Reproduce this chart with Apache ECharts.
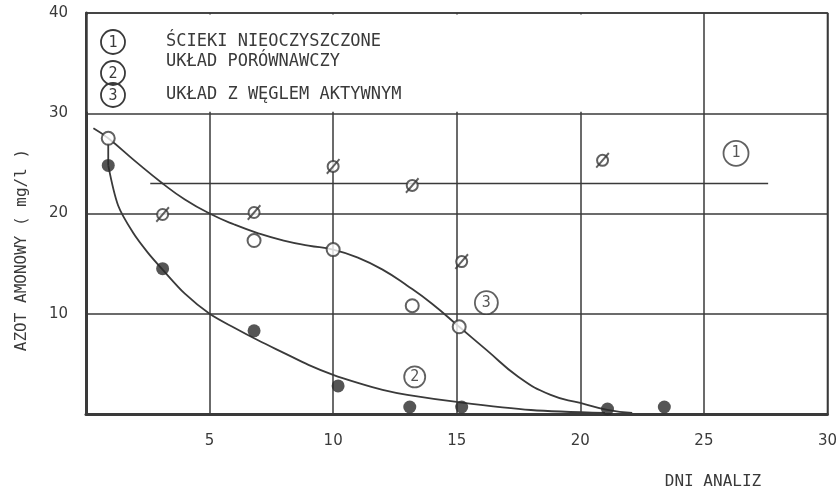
<!DOCTYPE html>
<html><head><meta charset="utf-8">
<script src="https://cdn.jsdelivr.net/npm/echarts@6/dist/echarts.min.js"></script>
<style>html,body{margin:0;padding:0;background:#fff}#c{width:840px;height:489px}</style>
</head><body><div id="c"></div>
<script>
// ---- data ----
const xTicks = [5, 10, 15, 20, 25, 30];
const yTicks = [10, 20, 30, 40];
// series 1: ścieki nieoczyszczone (slashed circles) + horizontal mean line
const s1Points = [[3.1,19.9],[6.8,20.1],[10.0,24.7],[13.2,22.8],[15.2,15.2],[20.9,25.3]];
const s1Line = [[2.6,23.0],[27.6,23.0]];
// series 2: układ porównawczy (filled circles) + fitted curve
const s2Points = [[0.9,24.8],[3.1,14.5],[6.8,8.3],[10.2,2.8],[13.1,0.7],[15.2,0.7],[21.1,0.5],[23.4,0.7]];
const s2Stem = [[0.9,27.0],[0.9,24.8]];
const s2Curve = [[0.9,24.8],[1.3,20.8],[1.9,18.1],[2.5,16.1],[3.1,14.4],[4.0,12.0],[5.0,10.0],[6.0,8.6],[7.0,7.3],[8.0,6.1],[9.0,4.9],[10.0,3.9],[11.0,3.1],[12.0,2.4],[13.0,1.9],[15.0,1.2],[18.0,0.4],[21.0,0.1]];
// series 3: układ z węglem aktywnym (open circles) + fitted curve
const s3Points = [[0.9,27.5],[6.8,17.3],[10.0,16.4],[13.2,10.8],[15.1,8.7]];
const s3Curve = [[0.3,28.5],[0.9,27.5],[2.0,25.2],[3.1,23.0],[4.0,21.4],[5.0,20.0],[6.0,18.9],[7.0,18.0],[8.0,17.3],[9.0,16.8],[10.0,16.4],[11.0,15.6],[12.0,14.4],[13.0,12.8],[14.0,11.0],[15.1,8.7],[16.2,6.4],[17.5,3.7],[18.8,1.9],[20.0,1.1],[21.1,0.4],[22.1,0.1]];
// circled curve numbers placed on the plot
const curveTags = [[26.3,26.0,'1',25],[16.2,11.1,'3',23],[13.3,3.7,'2',21]];
const legendNames = ['ŚCIEKI NIEOCZYSZCZONE','UKŁAD PORÓWNAWCZY','UKŁAD Z WĘGLEM AKTYWNYM'];
const yAxisTitle = 'AZOT AMONOWY ( mg/l )';
const xAxisTitle = 'DNI ANALIZ';

const INK = '#3a3a3a';
const MONO = '"DejaVu Sans Mono", "Liberation Mono", monospace';
const chart = echarts.init(document.getElementById('c'));

const legendY = [42, 73, 95];
const legendTextY = [42, 62, 95];
const graphics = [];
legendNames.forEach((n, i) => {
  graphics.push({type:'circle', shape:{cx:113, cy:legendY[i], r:12}, style:{fill:'none', stroke:INK, lineWidth:1.8}, z:100});
  graphics.push({type:'text', x:113, y:legendY[i]+1, style:{text:String(i+1), font:'15px '+MONO, fill:INK, align:'center', verticalAlign:'middle'}, z:100});
  graphics.push({type:'text', x:166, y:legendTextY[i], style:{text:n, font:'17px '+MONO, fill:INK, verticalAlign:'middle'}, z:100});
});
graphics.push({type:'text', x:22, y:250, rotation:Math.PI/2, style:{text:yAxisTitle, font:'16px '+MONO, fill:INK, align:'center', verticalAlign:'middle'}, z:100});
graphics.push({type:'text', x:713, y:482, style:{text:xAxisTitle, font:'16px '+MONO, fill:INK, align:'center', verticalAlign:'middle'}, z:100});

const slashPath = 'path://M0 20 L18 0 L20 2 L2 22 Z';

chart.setOption({
  backgroundColor:'#ffffff',
  animation:false,
  grid:{left:86, right:10, top:13, bottom:75, show:true, borderColor:INK, borderWidth:1.5, backgroundColor:'transparent'},
  xAxis:{type:'value', min:0, max:30, interval:5,
    axisLine:{show:true, lineStyle:{color:INK, width:3}}, axisTick:{show:false},
    axisLabel:{margin:20, color:INK, fontSize:15, fontFamily:'DejaVu Sans', formatter:v => xTicks.includes(v) ? String(v) : ''},
    splitLine:{show:true, lineStyle:{color:INK, width:1.5}}},
  yAxis:{type:'value', min:0, max:40, interval:10,
    axisLine:{show:true, lineStyle:{color:INK, width:3}}, axisTick:{show:false},
    axisLabel:{margin:18, color:INK, fontSize:15, fontFamily:'DejaVu Sans', formatter:v => yTicks.includes(v) ? String(v) : ''},
    splitLine:{show:true, lineStyle:{color:INK, width:1.5}}},
  graphic:graphics,
  series:[
    {type:'line', data:s1Line, showSymbol:false, lineStyle:{color:INK, width:1.6}, z:3,
     markArea:{silent:true, itemStyle:{color:'#ffffff', opacity:1}, data:[[{coord:[0.07,30.15]},{coord:[24.93,39.85]}]]}},
    {type:'scatter', data:s1Points, symbol:'emptyCircle', symbolSize:11, itemStyle:{color:INK, borderColor:INK, borderWidth:1.8}, z:4},
    {type:'scatter', data:s1Points, symbol:slashPath, symbolSize:[14,16], itemStyle:{color:INK}, z:4},
    {type:'line', data:s2Stem, showSymbol:false, lineStyle:{color:INK, width:1.8}, z:3},
    {type:'line', data:s2Curve, smooth:0.3, showSymbol:false, lineStyle:{color:INK, width:1.8}, z:3},
    {type:'scatter', data:s2Points, symbol:'circle', symbolSize:13, itemStyle:{color:'#2a2a2a'}, z:4},
    {type:'line', data:s3Curve, smooth:0.5, showSymbol:false, lineStyle:{color:INK, width:1.8}, z:3},
    {type:'scatter', data:s3Points, symbol:'circle', symbolSize:13, itemStyle:{color:'#ffffff', borderColor:INK, borderWidth:2}, z:4},
    {type:'scatter', data:curveTags.map(t => ({value:[t[0],t[1]], symbolSize:t[3], label:{formatter:t[2]}})),
     symbol:'circle', itemStyle:{color:'#ffffff', borderColor:INK, borderWidth:1.8},
     label:{show:true, position:'inside', color:'#2a2a2a', textBorderWidth:0, fontSize:15, fontFamily:MONO}, z:5}
  ]
});
</script></body></html>
